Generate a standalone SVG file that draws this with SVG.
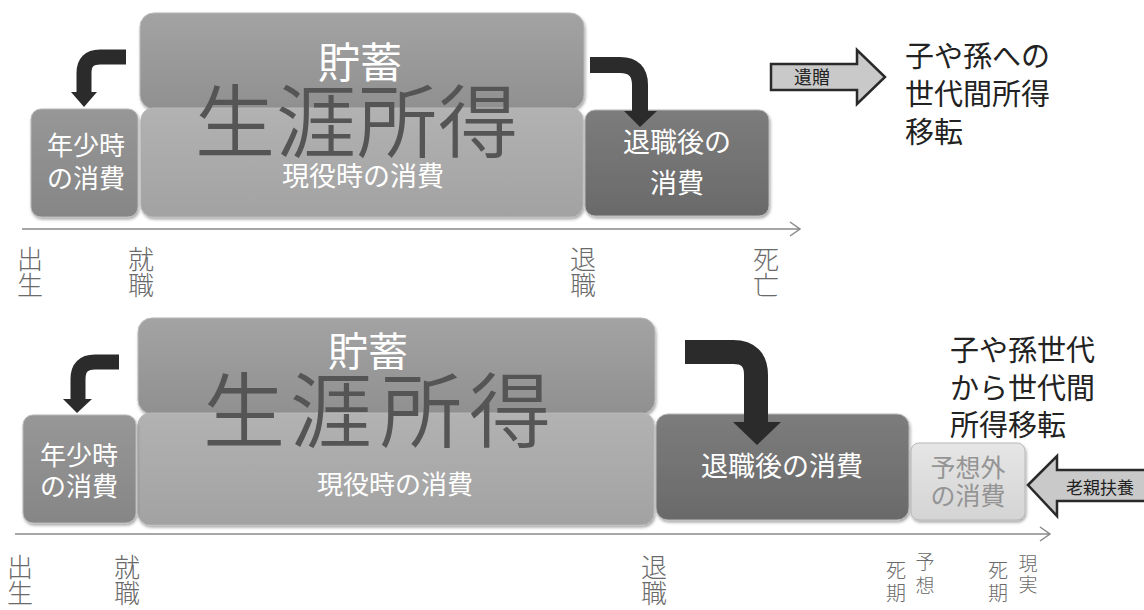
<svg xmlns="http://www.w3.org/2000/svg" width="1144" height="610" viewBox="0 0 1144 610">
<defs>
<style>
text{font-family:"Noto Sans CJK JP","Noto Sans CJK SC",sans-serif;}
.w{fill:#ffffff;}
.big{fill:#555555;font-weight:350;}
.dk{fill:#222222;}
.lbl{fill:#6a6a6a;font-weight:300;}
.box{stroke:#b8b8b8;stroke-width:1;filter:url(#sh);}
.arr{fill:none;stroke:#2b2b2b;}
.head{fill:#2b2b2b;}
.axis{fill:none;stroke:#8a8a8a;stroke-width:1.5;}
.blk{fill:#c9c9c9;stroke:#2a2a2a;stroke-width:2.5;stroke-linejoin:miter;}
</style>
<filter id="sh" x="-10%" y="-10%" width="120%" height="130%">
<feDropShadow dx="1" dy="2" stdDeviation="1.5" flood-color="#000" flood-opacity="0.35"/>
</filter>
<linearGradient id="gUp" x1="0" y1="0" x2="0" y2="1"><stop offset="0" stop-color="#a3a3a3"/><stop offset="1" stop-color="#909090"/></linearGradient>
<linearGradient id="gLow" x1="0" y1="0" x2="0" y2="1"><stop offset="0" stop-color="#b2b2b2"/><stop offset="1" stop-color="#a2a2a2"/></linearGradient>
<linearGradient id="gLeft" x1="0" y1="0" x2="0" y2="1"><stop offset="0" stop-color="#979797"/><stop offset="1" stop-color="#868686"/></linearGradient>
<linearGradient id="gRet" x1="0" y1="0" x2="0" y2="1"><stop offset="0" stop-color="#7c7c7c"/><stop offset="1" stop-color="#6a6a6a"/></linearGradient>
<linearGradient id="gUnx" x1="0" y1="0" x2="0" y2="1"><stop offset="0" stop-color="#e6e6e6"/><stop offset="1" stop-color="#d4d4d4"/></linearGradient>
</defs>
<rect width="1144" height="610" fill="#ffffff"/>

<!-- TOP PANEL -->
<g id="top-savings"><rect class="box" x="140" y="13" width="444" height="96" rx="14" fill="url(#gUp)"/><text class="w" x="360" y="78" font-size="42" text-anchor="middle">貯蓄</text></g>
<g id="top-working"><rect class="box" x="141" y="108" width="442" height="109" rx="12" fill="url(#gLow)"/><text class="w" x="363" y="186" font-size="27" text-anchor="middle">現役時の消費</text></g>
<g id="top-youth"><rect class="box" x="31" y="109" width="107" height="108" rx="10" fill="url(#gLeft)"/><text class="w" x="86" y="155" font-size="26" text-anchor="middle">年少時</text><text class="w" x="86" y="188" font-size="26" text-anchor="middle">の消費</text></g>
<g id="top-retire"><rect class="box" x="585" y="110" width="184" height="106" rx="10" fill="url(#gRet)"/><text class="w" x="677" y="152" font-size="27" text-anchor="middle">退職後の</text><text class="w" x="677" y="193" font-size="27" text-anchor="middle">消費</text></g>
<g id="top-lifetime"><text class="big" font-size="80" x="195" y="151">生</text><text class="big" font-size="80" x="276" y="151">涯</text><text class="big" font-size="80" x="357" y="151">所</text><text class="big" font-size="80" x="438" y="151">得</text></g>

<g id="top-bequest"><polygon class="blk" points="771,64 857,64 857,50 885,77 857,104 857,90 771,90"/><text class="dk" x="812" y="84" font-size="18" text-anchor="middle">遺贈</text></g>
<g id="top-transfer"><text class="dk" x="905" y="67" font-size="29">子や孫への</text><text class="dk" x="905" y="105" font-size="29">世代間所得</text><text class="dk" x="905" y="143" font-size="29">移転</text></g>

<g id="top-axis-labels">
<text class="lbl" x="30" y="269" font-size="26" text-anchor="middle">出</text><text class="lbl" x="30" y="295" font-size="26" text-anchor="middle">生</text>
<text class="lbl" x="141" y="269" font-size="26" text-anchor="middle">就</text><text class="lbl" x="141" y="295" font-size="26" text-anchor="middle">職</text>
<text class="lbl" x="583" y="269" font-size="26" text-anchor="middle">退</text><text class="lbl" x="583" y="295" font-size="26" text-anchor="middle">職</text>
<text class="lbl" x="766" y="269" font-size="26" text-anchor="middle">死</text><text class="lbl" x="766" y="295" font-size="26" text-anchor="middle">亡</text>
</g>

<!-- BOTTOM PANEL -->
<g id="bot-savings"><rect class="box" x="138" y="318" width="517" height="96" rx="14" fill="url(#gUp)"/><text class="w" x="368" y="366" font-size="40" text-anchor="middle">貯蓄</text></g>
<g id="bot-working"><rect class="box" x="138" y="413" width="516" height="112" rx="12" fill="url(#gLow)"/><text class="w" x="395" y="494" font-size="26" text-anchor="middle">現役時の消費</text></g>
<g id="bot-youth"><rect class="box" x="23" y="415" width="113" height="108" rx="10" fill="url(#gLeft)"/><text class="w" x="79" y="465" font-size="26" text-anchor="middle">年少時</text><text class="w" x="79" y="496" font-size="26" text-anchor="middle">の消費</text></g>
<g id="bot-retire"><rect class="box" x="656" y="414" width="253" height="106" rx="12" fill="url(#gRet)"/><text class="w" x="782" y="476" font-size="27" text-anchor="middle">退職後の消費</text></g>
<g id="bot-unexpected"><rect class="box" x="911" y="443" width="114" height="77" rx="8" fill="url(#gUnx)" stroke="#eeeeee"/><text x="968" y="477" font-size="25" text-anchor="middle" fill="#949494">予想外</text><text x="968" y="505" font-size="25" text-anchor="middle" fill="#949494">の消費</text></g>
<g id="bot-lifetime"><text class="big" font-size="82" x="203" y="441">生</text><text class="big" font-size="82" x="290" y="441">涯</text><text class="big" font-size="82" x="380" y="441">所</text><text class="big" font-size="82" x="469" y="441">得</text></g>

<g id="bot-support"><polygon class="blk" points="1028,485 1057,456 1057,470 1146,470 1146,501 1057,501 1057,516"/><text class="dk" x="1100" y="494" font-size="17" text-anchor="middle">老親扶養</text></g>
<g id="bot-transfer"><text class="dk" x="950" y="361" font-size="29">子や孫世代</text><text class="dk" x="950" y="399" font-size="29">から世代間</text><text class="dk" x="950" y="436" font-size="29">所得移転</text></g>

<g id="bot-axis-labels">
<text class="lbl" x="20" y="577" font-size="26" text-anchor="middle">出</text><text class="lbl" x="20" y="603" font-size="26" text-anchor="middle">生</text>
<text class="lbl" x="127" y="577" font-size="26" text-anchor="middle">就</text><text class="lbl" x="127" y="603" font-size="26" text-anchor="middle">職</text>
<text class="lbl" x="654" y="577" font-size="26" text-anchor="middle">退</text><text class="lbl" x="654" y="603" font-size="26" text-anchor="middle">職</text>
<text class="lbl" x="896" y="578" font-size="20" text-anchor="middle">死</text><text class="lbl" x="896" y="601" font-size="20" text-anchor="middle">期</text>
<text class="lbl" x="925" y="569" font-size="19" text-anchor="middle">予</text><text class="lbl" x="925" y="593" font-size="19" text-anchor="middle">想</text>
<text class="lbl" x="998" y="578" font-size="20" text-anchor="middle">死</text><text class="lbl" x="998" y="601" font-size="20" text-anchor="middle">期</text>
<text class="lbl" x="1028" y="571" font-size="19" text-anchor="middle">現</text><text class="lbl" x="1028" y="592" font-size="19" text-anchor="middle">実</text>
</g>

<!-- CONNECTORS -->
<g id="connectors">
<path class="axis" d="M22,229 H800 M790,222 L800,229 L790,236"/>
<path class="axis" d="M15,534 H1050 M1040,527 L1050,534 L1040,541"/>
<path class="arr" stroke-width="15" d="M126,57 H100 Q84,57 84,73 V93"/>
<polygon class="head" points="71,92 97,92 84,107"/>
<path class="arr" stroke-width="16" d="M590,65 H620 Q640,65 640,85 V112"/>
<polygon class="head" points="624,111 657,111 640,127"/>
<path class="arr" stroke-width="15" d="M119,362 H95 Q78,362 78,379 V400"/>
<polygon class="head" points="63,399 92,399 77,413"/>
<path class="arr" stroke-width="24" d="M685,352 H733 Q756,352 756,375 V423"/>
<polygon class="head" points="733,422 781,422 757,445"/>
</g>
</svg>
